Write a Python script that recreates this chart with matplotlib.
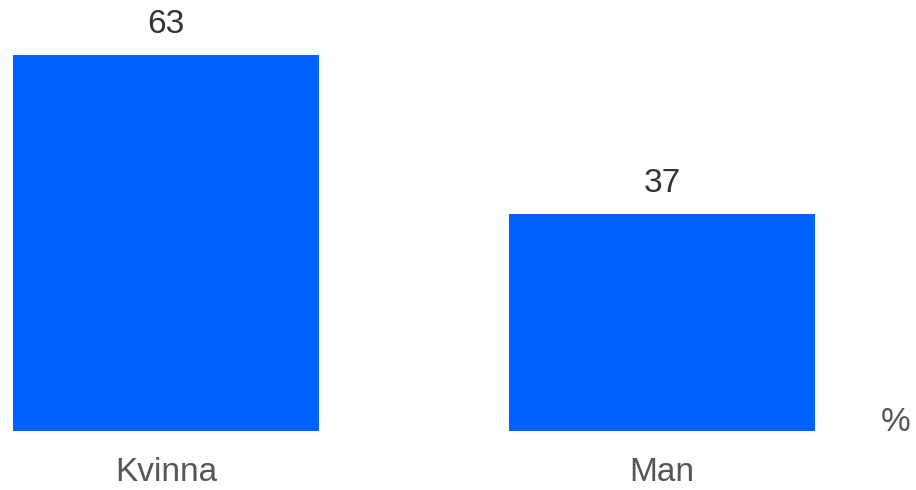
import matplotlib
matplotlib.use('Agg')
import matplotlib.pyplot as plt

plt.rcParams['font.family'] = ['Liberation Sans', 'DejaVu Sans']

# data
categories = ['Kvinna', 'Man']
values = [63.4, 36.6]
value_labels = ['63', '37']

fig = plt.figure(figsize=(9.16, 4.9), dpi=100)
ax = fig.add_axes([13 / 916, 59 / 490, 802 / 916, 376 / 490])

bar_width = 0.617
index = list(range(len(categories)))
ax.bar(index, values, bar_width, color='#0061ff')

ax.set_xlim(-bar_width / 2, 1 + bar_width / 2)
ax.set_ylim(0, max(values))

# value labels above the bars
for i, v in enumerate(values):
    ax.annotate(value_labels[i], (i, v), xytext=(0, 11), textcoords='offset points',
                ha='center', va='bottom', fontsize=24, color='#333333',
                annotation_clip=False)

ax.set_xticks(index)
ax.set_xticklabels(categories, fontsize=24, color='#555555')
ax.tick_params(axis='x', length=0, pad=19)
ax.set_yticks([])
for s in ax.spines.values():
    s.set_visible(False)

fig.text(896 / 916, (490 - 422) / 490, '%', ha='center', va='center',
         fontsize=24, color='#555555')

fig.savefig('out.png', dpi=100)
plt.close(fig)
